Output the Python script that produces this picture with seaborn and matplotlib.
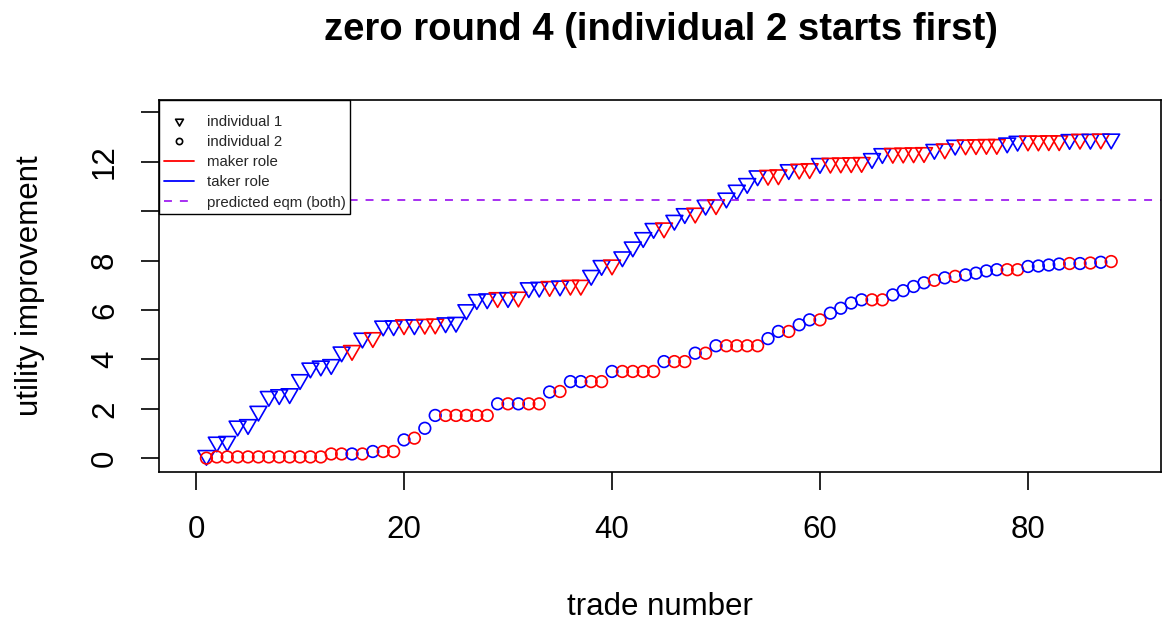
import numpy as np
import pandas as pd
import matplotlib
matplotlib.use("Agg")
import matplotlib.pyplot as plt
from matplotlib.lines import Line2D
from matplotlib.path import Path
from matplotlib.markers import MarkerStyle
import seaborn as sns

# ---- text ----
TITLE = "zero round 4 (individual 2 starts first)"
X_LABEL = "trade number"
Y_LABEL = "utility improvement"
LEGEND_LABELS = ["individual 1", "individual 2", "maker role", "taker role",
                 "predicted eqm (both)"]

# ---- data: cumulative utility improvement after each trade ----
ind1_utility = [
    0.11, 0.65, 0.68, 1.30, 1.36, 1.90, 2.50, 2.57, 2.61, 3.18,
    3.65, 3.73, 3.79, 4.30, 4.36, 4.86, 4.88, 5.35, 5.36, 5.40,
    5.40, 5.42, 5.43, 5.48, 5.50, 6.01, 6.42, 6.45, 6.50, 6.50,
    6.52, 6.90, 6.92, 6.95, 6.97, 7.00, 7.00, 7.40, 7.80, 7.82,
    8.15, 8.55, 8.93, 9.30, 9.32, 9.63, 9.90, 9.92, 10.24, 10.26,
    10.53, 10.85, 11.12, 11.43, 11.45, 11.47, 11.68, 11.70, 11.72, 11.93,
    11.94, 11.95, 11.96, 11.97, 12.13, 12.33, 12.34, 12.35, 12.36, 12.37,
    12.50, 12.52, 12.67, 12.68, 12.69, 12.70, 12.70, 12.76, 12.83, 12.84,
    12.84, 12.85, 12.85, 12.90, 12.91, 12.91, 12.92, 12.92,
]
ind2_utility = [
    0.00, 0.05, 0.05, 0.05, 0.05, 0.05, 0.05, 0.05, 0.05, 0.05,
    0.05, 0.05, 0.17, 0.17, 0.17, 0.17, 0.27, 0.27, 0.27, 0.74,
    0.81, 1.21, 1.73, 1.73, 1.73, 1.73, 1.73, 1.73, 2.20, 2.20,
    2.20, 2.20, 2.20, 2.68, 2.70, 3.10, 3.10, 3.10, 3.10, 3.51,
    3.51, 3.51, 3.51, 3.51, 3.91, 3.91, 3.91, 4.25, 4.25, 4.55,
    4.55, 4.55, 4.55, 4.55, 4.84, 5.13, 5.13, 5.40, 5.60, 5.60,
    5.87, 6.07, 6.28, 6.41, 6.41, 6.41, 6.61, 6.78, 6.95, 7.10,
    7.20, 7.30, 7.36, 7.42, 7.49, 7.58, 7.63, 7.63, 7.63, 7.76,
    7.78, 7.82, 7.86, 7.88, 7.88, 7.90, 7.93, 7.96,
]
# role of individual 2 in each trade (M = maker, T = taker);
# individual 1 always holds the other role
ind2_roles = "".join([
    "MMMMMMMMMM", "MMMMTMTMMT", "MTTMMMMMTM", "TMMTMTTMMT", "MMMMTMMTMT",
    "MMMMTTMTTM", "TTTTMMTTTT", "MTMTTTTMMT", "TTTMTMTM",
])
predicted_eqm = 10.45

x_ticks = [0, 20, 40, 60, 80]
y_ticks = [0, 2, 4, 6, 8, 10, 12, 14]
y_tick_labels = ["0", "2", "4", "6", "8", "", "12", ""]

role_names = {"M": "maker", "T": "taker"}
role_colors = {"maker": "#FF0000", "taker": "#0000FF"}
EQM_COLOR = "#A020F0"

# ---- tidy frames ----
trade = np.arange(1, len(ind1_utility) + 1)
roles2 = [role_names[c] for c in ind2_roles]
roles1 = ["taker" if r == "maker" else "maker" for r in roles2]
df1 = pd.DataFrame({"trade": trade, "utility": ind1_utility, "role": roles1})
df2 = pd.DataFrame({"trade": trade, "utility": ind2_utility, "role": roles2})

# ---- style ----
sns.set_style("white")
plt.rcParams["font.family"] = ["Liberation Sans", "DejaVu Sans"]

W, H = 1163, 627
fig = plt.figure(figsize=(W / 100, H / 100), dpi=100)
ax = fig.add_axes([159 / W, (H - 472) / H, (1161 - 159) / W, (472 - 100) / H])

# equilateral down-pointing triangle centred on its centroid
tri_path = Path([(0, -1), (0.866, 0.5), (-0.866, 0.5), (0, -1)],
                [Path.MOVETO, Path.LINETO, Path.LINETO, Path.CLOSEPOLY])
tri_marker = MarkerStyle(tri_path)


def open_markers(collection):
    colors = collection.get_facecolors()
    collection.set_edgecolors(colors)
    collection.set_facecolors("none")


sns.scatterplot(data=df1, x="trade", y="utility", hue="role", palette=role_colors,
                marker=tri_marker, s=196, linewidth=1.2, legend=False, ax=ax)
open_markers(ax.collections[-1])

sns.scatterplot(data=df2, x="trade", y="utility", hue="role", palette=role_colors,
                marker="o", s=70, linewidth=1.2, legend=False, ax=ax)
open_markers(ax.collections[-1])

ax.axhline(predicted_eqm, color=EQM_COLOR, lw=1.3, ls=(0, (4.4, 4.4)), zorder=1)

# ---- axes ----
ax.set_xlim(-3.56, 92.79)
ax.set_ylim(-0.56, 14.5)
ax.set_xticks(x_ticks)
ax.set_yticks(y_ticks, labels=y_tick_labels)
ax.tick_params(direction="out", length=13, width=1.2, labelsize=22.5,
               color="black", labelcolor="black", bottom=True, left=True)
ax.tick_params(axis="x", pad=18)
ax.tick_params(axis="y", pad=15, labelrotation=90)
plt.setp(ax.get_yticklabels(), va="center")
for sp in ax.spines.values():
    sp.set_color("black")
    sp.set_linewidth(1.2)

ax.set_xlabel(X_LABEL, fontsize=22.5, color="black", va="center")
ax.set_ylabel(Y_LABEL, fontsize=22.5, color="black", va="center")
ax.xaxis.set_label_coords(0.5, (472 - 607) / 372)
ax.yaxis.set_label_coords((30 - 159) / 1002, 0.5)

fig.text(661 / W, 1 - 30 / H, TITLE, ha="center", va="center",
         fontsize=27.5, fontweight="bold", color="black")

# ---- legend ----
handles = [
    Line2D([], [], ls="none", marker=tri_marker, ms=6.5, mfc="none",
           mec="black", mew=1.2),
    Line2D([], [], ls="none", marker="o", ms=4.5, mfc="none",
           mec="black", mew=1.2),
    Line2D([], [], color=role_colors["maker"], lw=1.3),
    Line2D([], [], color=role_colors["taker"], lw=1.3),
    Line2D([], [], color=EQM_COLOR, lw=1.3, ls=(0, (4.4, 4.4))),
]
leg = ax.legend(handles, LEGEND_LABELS, loc="upper left", bbox_to_anchor=(0, 1),
                borderaxespad=0, frameon=True, fancybox=False, edgecolor="black",
                framealpha=1, fontsize=10.8, handlelength=2.0,
                handletextpad=0.9, labelspacing=0.4, borderpad=0.3,
                title=" ", title_fontsize=4)
leg.get_frame().set_linewidth(1.0)

fig.savefig("out.png", dpi=100)
